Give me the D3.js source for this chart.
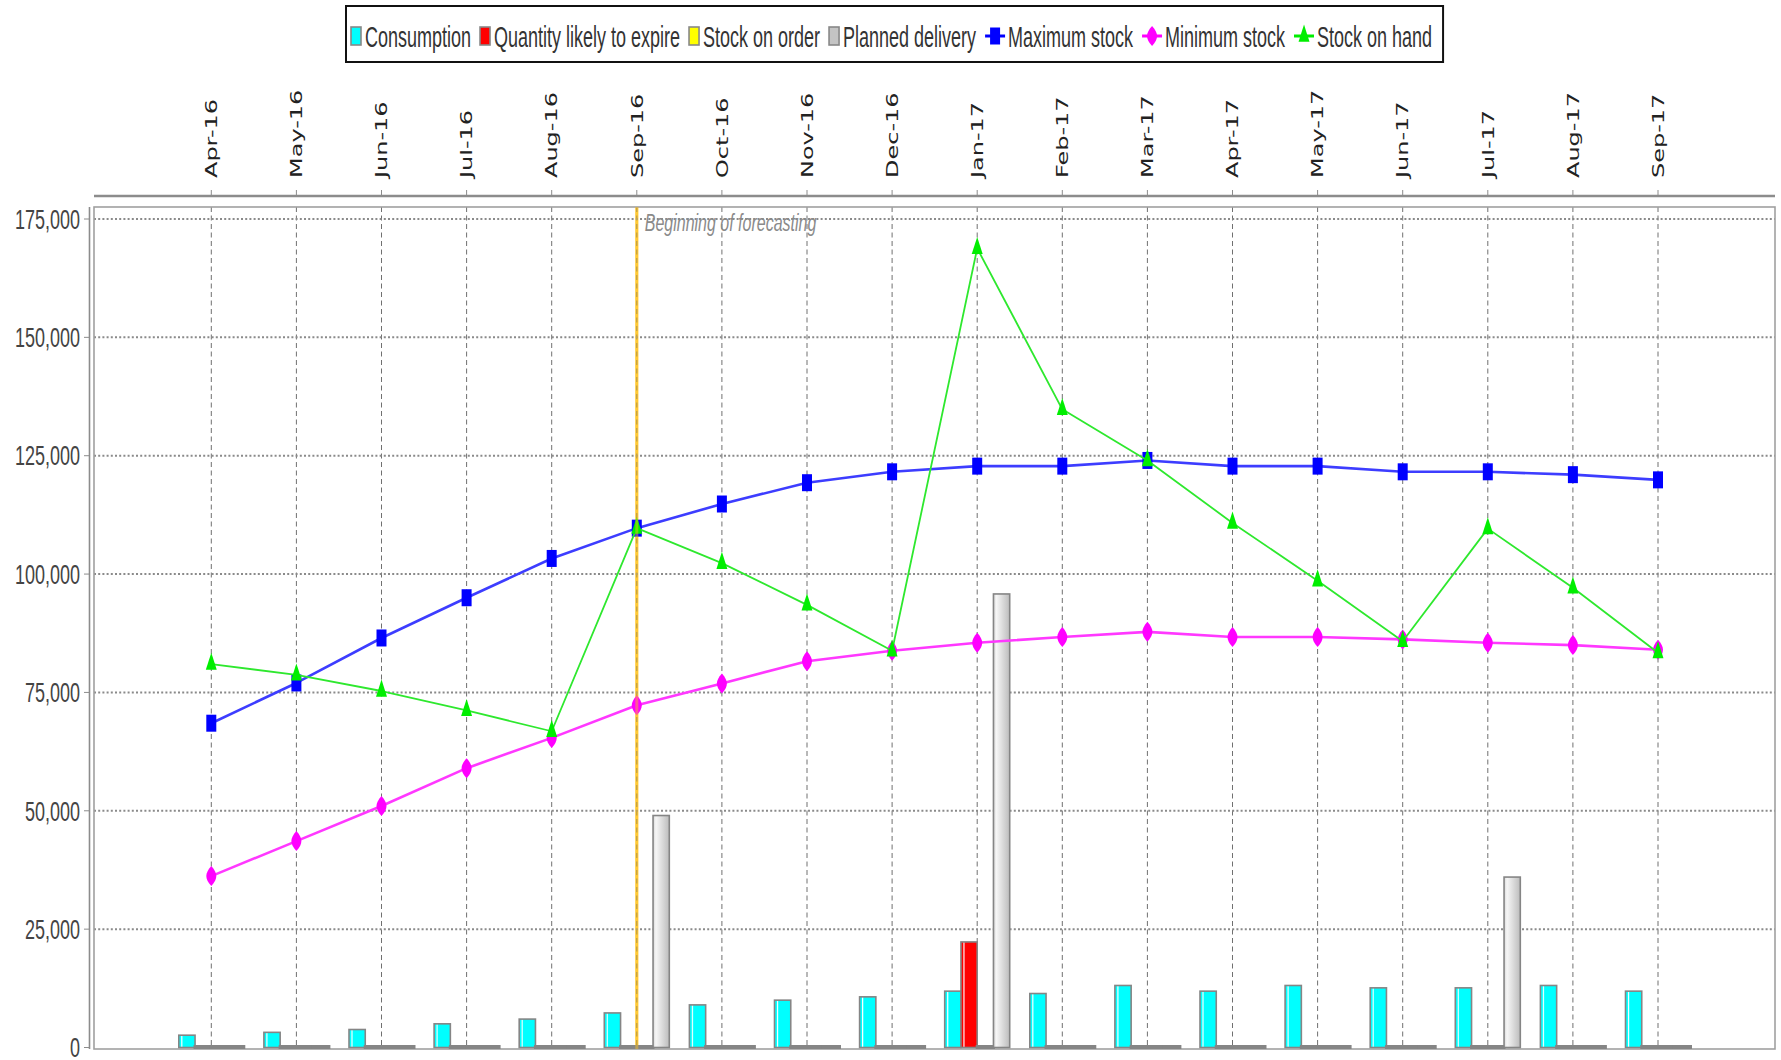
<!DOCTYPE html>
<html>
<head>
<meta charset="utf-8">
<script src="https://cdn.jsdelivr.net/npm/d3@7"></script>
<style>
  html, body { margin: 0; padding: 0; background: #fff; }
  svg { display: block; }
</style>
</head>
<body>
<svg id="chart" width="1781" height="1060"></svg>
<script>
// ---- data -------------------------------------------------------------
const months = ["Apr-16", "May-16", "Jun-16", "Jul-16", "Aug-16", "Sep-16",
                "Oct-16", "Nov-16", "Dec-16", "Jan-17", "Feb-17", "Mar-17",
                "Apr-17", "May-17", "Jun-17", "Jul-17", "Aug-17", "Sep-17"];

const consumption     = [2600, 3200, 3800, 5000, 6000, 7300, 9000, 10000, 10700,
                         11900, 11400, 13100, 11900, 13100, 12600, 12600, 13100, 11900];
const expiring        = [0, 0, 0, 0, 0, 0, 0, 0, 0, 22300, 0, 0, 0, 0, 0, 0, 0, 0];
const stockOnOrder    = [0, 0, 0, 0, 0, 0, 0, 0, 0, 0, 0, 0, 0, 0, 0, 0, 0, 0];
const plannedDelivery = [0, 0, 0, 0, 0, 49000, 0, 0, 0, 95800, 0, 0, 0, 0, 0, 36000, 0, 0];

const maxStock    = [68500, 77000, 86500, 95000, 103300, 109700, 114800, 119300, 121600,
                     122800, 122800, 124000, 122800, 122800, 121600, 121600, 121000, 119900];
const minStock    = [36200, 43600, 51000, 59000, 65400, 72300, 76900, 81600, 83800,
                     85500, 86700, 87800, 86700, 86700, 86200, 85500, 85000, 84000];
const stockOnHand = [81000, 78700, 75300, 71200, 66800, 109700, 102300, 93500, 83800,
                     168800, 134800, 124000, 110800, 98600, 85800, 109600, 97100, 83400];

const yTickValues = [0, 25000, 50000, 75000, 100000, 125000, 150000, 175000];
const forecastStart = "Sep-16";
const forecastLabel = "Beginning of forecasting";

// ---- layout -----------------------------------------------------------
const W = 1781, H = 1060;
const plot = { left: 94, top: 207, right: 1775, bottom: 1049 };
const stretch = 1.5;           // vertical stretch applied to the labels
const svg = d3.select("#chart");

const x = d3.scalePoint().domain(months).range([211.3, 1658]);
const y = d3.scaleLinear().domain([0, 175000]).range([1047.5, 219]);

const barSeries = [
  { name: "Consumption", values: consumption, color: "#00ffff" },
  { name: "Quantity likely to expire", values: expiring, color: "#ff0000" },
  { name: "Stock on order", values: stockOnOrder, color: "#ffff00" },
  { name: "Planned delivery", values: plannedDelivery, color: "#c8c8c8" }
];
const inner = d3.scaleBand().domain(barSeries.map(d => d.name)).range([-32.5, 32.5]);

// lens-shaped marker used for the minimum stock line
const lens = {
  draw(ctx, size) {
    const w = Math.sqrt(size) / 2, h = w * 2;
    ctx.moveTo(0, -h);
    ctx.bezierCurveTo(w * 0.7, -h * 0.6, w, -h * 0.3, w, 0);
    ctx.bezierCurveTo(w, h * 0.3, w * 0.7, h * 0.6, 0, h);
    ctx.bezierCurveTo(-w * 0.7, h * 0.6, -w, h * 0.3, -w, 0);
    ctx.bezierCurveTo(-w, -h * 0.3, -w * 0.7, -h * 0.6, 0, -h);
    ctx.closePath();
  }
};

const lineSeries = [
  { name: "Maximum stock", values: maxStock, color: "#3d3dff", marker: "#0000ff",
    width: 2.6, symbol: d3.symbolSquare, size: 100, sy: 1.7 },
  { name: "Minimum stock", values: minStock, color: "#ff38ff", marker: "#ff00ff",
    width: 2.6, symbol: lens, size: 100, sy: 1 },
  { name: "Stock on hand", values: stockOnHand, color: "#2ee82e", marker: "#00ee00",
    width: 1.8, symbol: d3.symbolTriangle, size: 52, sy: 1.8 }
];

// gradients giving the bars their sheen
const defs = svg.append("defs");
barSeries.forEach((s, i) => {
  const g = defs.append("linearGradient").attr("id", "bar" + i)
    .attr("x1", "0%").attr("x2", "100%").attr("y1", "0%").attr("y2", "0%");
  if (s.name === "Planned delivery") {
    g.append("stop").attr("offset", "0%").attr("stop-color", "#d6d6d6");
    g.append("stop").attr("offset", "18%").attr("stop-color", "#f6f6f6");
    g.append("stop").attr("offset", "100%").attr("stop-color", "#bcbcbc");
  } else {
    g.append("stop").attr("offset", "0%").attr("stop-color", s.color);
    g.append("stop").attr("offset", "12%").attr("stop-color", s.color);
    g.append("stop").attr("offset", "18%").attr("stop-color", "#ffffff");
    g.append("stop").attr("offset", "26%").attr("stop-color", s.color);
    g.append("stop").attr("offset", "100%").attr("stop-color", s.color);
  }
});

// ---- frame ------------------------------------------------------------
svg.append("rect").attr("width", W).attr("height", H).attr("fill", "#fff");

// yellow forecast marker sits under the grid
svg.append("line")
  .attr("x1", x(forecastStart)).attr("x2", x(forecastStart))
  .attr("y1", plot.top).attr("y2", plot.bottom)
  .attr("stroke", "#ffc21a").attr("stroke-opacity", 0.8).attr("stroke-width", 3);

// grid
svg.append("g").selectAll("line").data(months).join("line")
  .attr("x1", d => x(d)).attr("x2", d => x(d))
  .attr("y1", plot.top).attr("y2", plot.bottom)
  .attr("stroke", "#707070").attr("stroke-width", 1).attr("stroke-dasharray", "5,3.5");
svg.append("g").selectAll("line").data(yTickValues.filter(v => v > 0)).join("line")
  .attr("x1", plot.left).attr("x2", plot.right)
  .attr("y1", d => y(d)).attr("y2", d => y(d))
  .attr("stroke", "#8a8a8a").attr("stroke-width", 2).attr("stroke-dasharray", "2,2.2");

// plot border
svg.append("rect")
  .attr("x", plot.left).attr("y", plot.top)
  .attr("width", plot.right - plot.left).attr("height", plot.bottom - plot.top)
  .attr("fill", "none").attr("stroke", "#a0a0a0").attr("stroke-width", 1.6);

// top category axis line + ticks
svg.append("line").attr("x1", plot.left).attr("x2", plot.right)
  .attr("y1", 196).attr("y2", 196).attr("stroke", "#8c8c8c").attr("stroke-width", 2.4);
svg.append("g").selectAll("line").data(months).join("line")
  .attr("x1", d => x(d)).attr("x2", d => x(d)).attr("y1", 190).attr("y2", 196)
  .attr("stroke", "#8c8c8c").attr("stroke-width", 1);

// left value axis line + ticks
svg.append("line").attr("x1", 89.5).attr("x2", 89.5)
  .attr("y1", plot.top).attr("y2", plot.bottom)
  .attr("stroke", "#8c8c8c").attr("stroke-width", 1.6);
svg.append("g").selectAll("line").data(yTickValues).join("line")
  .attr("x1", 84).attr("x2", 89.5).attr("y1", d => y(d)).attr("y2", d => y(d))
  .attr("stroke", "#8c8c8c").attr("stroke-width", 1);

// value labels
const fmt = d3.format(",");
svg.append("g").selectAll("text").data(yTickValues).join("text")
  .attr("transform", d => `translate(80,${y(d)}) scale(1,${stretch})`)
  .attr("dy", "0.36em").attr("text-anchor", "end")
  .attr("font-family", "'Liberation Sans', Arial, sans-serif").attr("font-size", 18)
  .attr("fill", "#444").text(d => fmt(d));

// category labels, rotated to read upwards from the axis
svg.append("g").selectAll("text").data(months).join("text")
  .attr("transform", d => `translate(${x(d)},178) scale(1,${stretch}) rotate(-90)`)
  .attr("dy", "0.36em").attr("text-anchor", "start")
  .attr("font-family", "'DejaVu Sans', sans-serif").attr("font-size", 16)
  .attr("fill", "#222").text(d => d);

// ---- bars -------------------------------------------------------------
// empty values still show as a flat outlined bar along the baseline
const bars = svg.append("g");
barSeries.forEach((s, i) => {
  bars.append("g").selectAll("rect").data(s.values).join("rect")
    .attr("x", (v, j) => x(months[j]) + inner(s.name))
    .attr("width", inner.bandwidth())
    .attr("y", v => v === 0 ? y(0) - 1 : y(v))
    .attr("height", v => v === 0 ? 1 : y(0) - y(v))
    .attr("fill", v => v === 0 ? "#858585" : `url(#bar${i})`)
    .attr("stroke", "#858585")
    .attr("stroke-width", v => v === 0 ? 3 : 1.6);
});

// ---- lines ------------------------------------------------------------
const lineGen = d3.line().x((v, j) => x(months[j])).y(v => y(v));
lineSeries.forEach(s => {
  const g = svg.append("g");
  g.append("path").datum(s.values).attr("d", lineGen)
    .attr("fill", "none").attr("stroke", s.color).attr("stroke-width", s.width)
    .attr("stroke-linejoin", "round");
  const sym = d3.symbol().type(s.symbol).size(s.size);
  g.selectAll("path.m").data(s.values).join("path").attr("class", "m")
    .attr("d", sym)
    .attr("transform", (v, j) => `translate(${x(months[j])},${y(v)}) scale(1,${s.sy})`)
    .attr("fill", s.marker);
});

// forecast caption and a light overlay of the marker line
svg.append("line")
  .attr("x1", x(forecastStart)).attr("x2", x(forecastStart))
  .attr("y1", plot.top).attr("y2", plot.bottom)
  .attr("stroke", "#ffc21a").attr("stroke-opacity", 0.45).attr("stroke-width", 3);
svg.append("text")
  .attr("transform", `translate(${x(forecastStart) + 8},231) scale(1,${stretch})`)
  .attr("font-family", "'Liberation Sans', Arial, sans-serif").attr("font-size", 16)
  .attr("font-style", "italic").attr("fill", "#8a8a8a").text(forecastLabel);

// ---- legend -----------------------------------------------------------
const legendItems = barSeries.map((s, i) => ({ name: s.name, kind: "bar", idx: i }))
  .concat(lineSeries.map(s => ({ name: s.name, kind: "line", s })));
const leg = svg.append("g");
const legY = 36;
let cx = 351;
legendItems.forEach(it => {
  const g = leg.append("g");
  if (it.kind === "bar") {
    g.append("rect").attr("x", cx).attr("y", legY - 9).attr("width", 10).attr("height", 18)
      .attr("fill", barSeries[it.idx].name === "Planned delivery" ? "#c4c4c4" : barSeries[it.idx].color)
      .attr("stroke", "#888").attr("stroke-width", 1.6);
    cx += 14;
  } else {
    const s = it.s;
    g.append("line").attr("x1", cx).attr("x2", cx + 20).attr("y1", legY).attr("y2", legY)
      .attr("stroke", s.marker).attr("stroke-width", 3);
    g.append("path").attr("d", d3.symbol().type(s.symbol).size(s.size))
      .attr("transform", `translate(${cx + 10},${legY}) scale(1,${s.sy})`).attr("fill", s.marker);
    cx += 23;
  }
  const t = g.append("text")
    .attr("transform", `translate(${cx},${legY}) scale(1,1.65)`)
    .attr("dy", "0.36em")
    .attr("font-family", "'Liberation Sans', Arial, sans-serif").attr("font-size", 18)
    .attr("fill", "#333").text(it.name);
  cx += t.node().getComputedTextLength() + 9;
});
leg.insert("rect", ":first-child")
  .attr("x", 346).attr("y", 6).attr("width", cx - 346 + 2).attr("height", 56)
  .attr("fill", "#fff").attr("stroke", "#111").attr("stroke-width", 2);
</script>
</body>
</html>
